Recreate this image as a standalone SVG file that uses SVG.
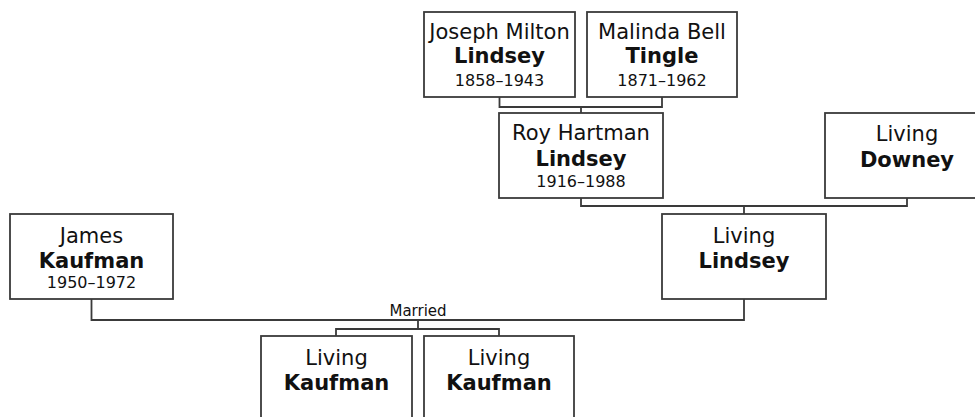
<svg xmlns="http://www.w3.org/2000/svg" width="975" height="417" viewBox="0 0 975 417">
<style>
.box{fill:#fff;stroke:#3a3a3a;stroke-width:1.8}
.con{fill:none;stroke:#3a3a3a;stroke-width:1.8}
text{font-family:"DejaVu Sans",Verdana,sans-serif;fill:#111;text-anchor:middle}
.n{font-size:21px}
.s{font-size:21px;font-weight:bold}
.d{font-size:16px}
.m{font-size:15px}
</style>
<rect width="975" height="417" fill="#fff"/>
<g id="connectors">
<path class="con" d="M499.5,97V107H662V97M581,107V113"/>
<path class="con" d="M581,198V206H907V198M744,206V214"/>
<path class="con" d="M91.5,299V320H744V299M418,320V329M336,336V329H499V336"/>
<text class="m" x="418" y="316">Married</text>
</g>
<g id="joseph">
<rect class="box" x="424" y="12" width="151" height="85"/>
<text class="n" x="499.5" y="39">Joseph Milton</text>
<text class="s" x="499.5" y="63">Lindsey</text>
<text class="d" x="499.5" y="86">1858–1943</text>
</g>
<g id="malinda">
<rect class="box" x="587" y="12" width="150" height="85"/>
<text class="n" x="662" y="39">Malinda Bell</text>
<text class="s" x="662" y="63">Tingle</text>
<text class="d" x="662" y="86">1871–1962</text>
</g>
<g id="roy">
<rect class="box" x="499" y="113" width="164" height="85"/>
<text class="n" x="581" y="140">Roy Hartman</text>
<text class="s" x="581" y="166">Lindsey</text>
<text class="d" x="581" y="187">1916–1988</text>
</g>
<g id="downey">
<rect class="box" x="825" y="113" width="164" height="85"/>
<text class="n" x="907" y="141">Living</text>
<text class="s" x="907" y="167">Downey</text>
</g>
<g id="livinglindsey">
<rect class="box" x="662" y="214" width="164" height="85"/>
<text class="n" x="744" y="243">Living</text>
<text class="s" x="744" y="268">Lindsey</text>
</g>
<g id="james">
<rect class="box" x="10" y="214" width="163" height="85"/>
<text class="n" x="91.5" y="243">James</text>
<text class="s" x="91.5" y="268">Kaufman</text>
<text class="d" x="91.5" y="288">1950–1972</text>
</g>
<g id="child1">
<rect class="box" x="261" y="336" width="151" height="85"/>
<text class="n" x="336.5" y="365">Living</text>
<text class="s" x="336.5" y="390">Kaufman</text>
</g>
<g id="child2">
<rect class="box" x="424" y="336" width="150" height="85"/>
<text class="n" x="499" y="365">Living</text>
<text class="s" x="499" y="390">Kaufman</text>
</g>
</svg>
